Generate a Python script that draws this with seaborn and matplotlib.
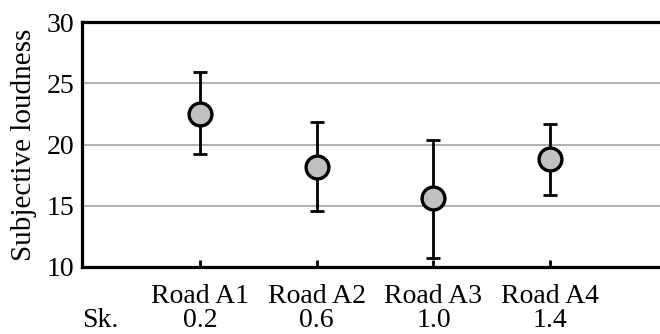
import matplotlib.pyplot as plt
import numpy as np
import pandas as pd
import seaborn as sns

roads = ["Road A1", "Road A2", "Road A3", "Road A4"]
skewness = ["0.2", "0.6", "1.0", "1.4"]
loudness_mean = [22.5, 18.2, 15.6, 18.8]
loudness_low = [19.2, 14.6, 10.7, 15.9]
loudness_high = [25.9, 21.8, 20.4, 21.7]

df = pd.DataFrame({
    "road": roads,
    "mean": loudness_mean,
    "low": loudness_low,
    "high": loudness_high,
})

sns.set_theme(style="white")
plt.rcParams["font.family"] = ["Liberation Serif", "DejaVu Serif"]

fig = plt.figure(figsize=(6.6, 3.34), dpi=100)
ax = fig.add_axes([82 / 660, 1 - 267 / 334, 1 - 82 / 660, 245 / 334])

# error bars first, markers on top
ax.errorbar(
    df["road"], df["mean"],
    yerr=[df["mean"] - df["low"], df["high"] - df["mean"]],
    fmt="none", ecolor="black", elinewidth=2.0, capsize=4.8, capthick=2.0,
    zorder=3,
)
sns.scatterplot(
    data=df, x="road", y="mean", ax=ax, s=270, color="#c0c0c0",
    edgecolor="black", linewidth=2.4, zorder=4, legend=False,
)

ax.set_ylim(10, 30)
ax.set_yticks([10, 15, 20, 25, 30])
ax.set_xlim(-1.01, 3.94)
ax.set_xticks(range(len(roads)))
ax.set_xticklabels([f"{r}\n{s}" for r, s in zip(roads, skewness)],
                   linespacing=0.98)
ax.yaxis.grid(True, color="#aaaaaa", linewidth=1.3)
ax.set_axisbelow(True)

for side in ["left", "top", "bottom"]:
    ax.spines[side].set_color("black")
    ax.spines[side].set_linewidth(2.3)
ax.spines["right"].set_visible(False)

ax.tick_params(axis="y", length=0, pad=5.5, labelsize=20, colors="black")
ax.tick_params(axis="x", direction="in", length=5, width=2, pad=12,
               labelsize=20, colors="black", bottom=True)
ax.set_xlabel("")
ax.set_ylabel("Subjective loudness", fontsize=21, color="black")
ax.yaxis.set_label_coords(-0.078, 0.5)

fig.text(100 / 660, 1 - 327 / 334, "Sk.", fontsize=20, ha="center",
         va="baseline", color="black")

fig.savefig("out.png", dpi=100)
